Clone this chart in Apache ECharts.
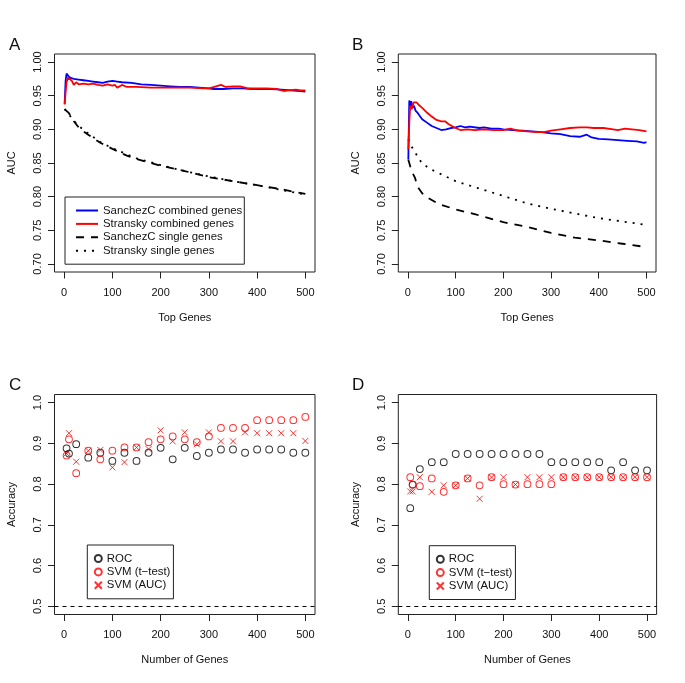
<!DOCTYPE html>
<html>
<head>
<meta charset="utf-8">
<script src="https://cdn.jsdelivr.net/npm/echarts@6/dist/echarts.min.js"></script>
<style>
html,body{margin:0;padding:0;background:#fff;}
#chart{width:685px;height:683px;}
</style>
</head>
<body>
<div id="chart"></div>
<script>
// ---------- data ----------
const xTicks = [0, 100, 200, 300, 400, 500];
const yTicksAUC = [0.70, 0.75, 0.80, 0.85, 0.90, 0.95, 1.00];
const yTicksAcc = [0.5, 0.6, 0.7, 0.8, 0.9, 1.0];

// Panel A  [top genes, AUC]
const aSanchezCombined = [[1,0.938],[3,0.972],[5,0.983],[7,0.981],[10,0.978],[15,0.976],[20,0.975],[30,0.974],[40,0.973],[50,0.972],[60,0.971],[70,0.970],[80,0.969],[90,0.971],[100,0.972],[110,0.971],[120,0.970],[140,0.969],[160,0.967],[180,0.966],[200,0.965],[220,0.964],[240,0.963],[260,0.963],[280,0.962],[300,0.961],[310,0.960],[330,0.960],[350,0.961],[370,0.961],[390,0.960],[410,0.960],[430,0.960],[450,0.959],[470,0.958],[490,0.957],[500,0.956]];
const aStranskyCombined = [[1,0.937],[3,0.955],[5,0.970],[8,0.977],[12,0.976],[16,0.972],[20,0.966],[25,0.970],[30,0.967],[40,0.968],[50,0.967],[60,0.968],[70,0.966],[80,0.965],[90,0.967],[100,0.965],[105,0.966],[110,0.962],[120,0.966],[130,0.963],[150,0.963],[180,0.962],[200,0.962],[230,0.962],[260,0.962],[290,0.961],[300,0.961],[315,0.964],[325,0.966],[335,0.963],[350,0.964],[365,0.964],[380,0.961],[400,0.961],[420,0.961],[440,0.960],[455,0.957],[465,0.958],[480,0.959],[490,0.958],[500,0.958]];
const aSanchezSingle = [[1,0.930],[5,0.928],[10,0.924],[20,0.912],[30,0.903],[40,0.897],[50,0.892],[75,0.880],[100,0.871],[130,0.861],[150,0.856],[200,0.846],[250,0.838],[300,0.829],[350,0.823],[400,0.817],[450,0.811],[500,0.804]];
const aStranskySingle = [[1,0.930],[10,0.922],[20,0.913],[30,0.905],[50,0.894],[75,0.881],[100,0.872],[150,0.857],[200,0.847],[250,0.838],[300,0.830],[350,0.823],[400,0.817],[450,0.810],[500,0.803]];

// Panel B
const bSanchezCombined = [[1,0.855],[2,0.900],[3,0.943],[5,0.930],[7,0.942],[10,0.932],[13,0.935],[16,0.928],[20,0.925],[25,0.920],[30,0.915],[40,0.910],[50,0.905],[60,0.902],[70,0.899],[80,0.900],[90,0.902],[100,0.903],[110,0.905],[120,0.903],[130,0.904],[150,0.902],[160,0.903],[175,0.901],[190,0.901],[200,0.900],[220,0.899],[240,0.898],[260,0.897],[280,0.896],[300,0.894],[320,0.893],[340,0.890],[360,0.889],[375,0.892],[385,0.888],[400,0.886],[420,0.885],[440,0.884],[460,0.883],[480,0.882],[495,0.880],[500,0.881]];
const bStranskyCombined = [[1,0.870],[3,0.910],[5,0.935],[8,0.930],[12,0.940],[18,0.940],[22,0.937],[30,0.932],[40,0.925],[50,0.919],[60,0.914],[70,0.912],[78,0.912],[85,0.908],[95,0.904],[100,0.902],[110,0.899],[125,0.900],[140,0.899],[160,0.900],[180,0.899],[200,0.899],[215,0.901],[230,0.898],[250,0.897],[270,0.896],[285,0.896],[300,0.898],[320,0.900],[340,0.902],[360,0.903],[375,0.903],[390,0.902],[410,0.902],[430,0.900],[440,0.899],[455,0.901],[470,0.900],[485,0.899],[500,0.897]];
const bSanchezSingle = [[1,0.855],[5,0.845],[10,0.835],[15,0.828],[20,0.815],[30,0.805],[40,0.799],[50,0.795],[65,0.789],[100,0.781],[140,0.774],[200,0.762],[250,0.755],[300,0.746],[350,0.739],[400,0.735],[450,0.730],[500,0.725]];
const bStranskySingle = [[1,0.885],[5,0.878],[10,0.872],[20,0.860],[30,0.849],[50,0.840],[65,0.835],[100,0.823],[150,0.812],[200,0.801],[250,0.790],[300,0.782],[350,0.775],[400,0.768],[450,0.763],[500,0.758]];

// Panels C and D  [number of genes]
const geneCounts = [5,10,25,50,75,100,125,150,175,200,225,250,275,300,325,350,375,400,425,450,475,500];
const cROC     = [0.888,0.875,0.898,0.865,0.877,0.857,0.877,0.857,0.877,0.889,0.861,0.889,0.869,0.877,0.885,0.885,0.877,0.885,0.885,0.885,0.877,0.877];
const cSVMt    = [0.870,0.910,0.827,0.882,0.861,0.882,0.890,0.890,0.903,0.910,0.917,0.910,0.903,0.917,0.938,0.938,0.938,0.957,0.957,0.957,0.957,0.965];
const cSVMauc  = [0.875,0.925,0.855,0.882,0.884,0.841,0.854,0.890,0.886,0.932,0.905,0.927,0.898,0.927,0.905,0.905,0.927,0.925,0.925,0.925,0.925,0.906];
const dROC     = [0.741,0.799,0.837,0.854,0.854,0.874,0.874,0.874,0.874,0.874,0.874,0.874,0.874,0.854,0.854,0.854,0.854,0.854,0.834,0.854,0.834,0.834];
const dSVMt    = [0.817,0.799,0.795,0.814,0.781,0.797,0.814,0.797,0.817,0.800,0.799,0.800,0.800,0.800,0.817,0.817,0.817,0.817,0.817,0.817,0.817,0.817];
const dSVMauc  = [0.782,0.782,0.817,0.781,0.797,0.797,0.814,0.764,0.817,0.817,0.799,0.817,0.817,0.817,0.817,0.817,0.817,0.817,0.817,0.817,0.817,0.817];
const chanceLevel = [0.5];

const panelLetters = ['A', 'B', 'C', 'D'];
const legendAB = ['SanchezC combined genes', 'Stransky combined genes', 'SanchezC single genes', 'Stransky single genes'];
const legendCD = ['ROC', 'SVM (t\u2212test)', 'SVM (AUC)'];

// ---------- layout / style ----------
const FONT = 'Liberation Sans, Arial, Helvetica, sans-serif';
const INK = '#111';
const BOX = '#222';
const BLUE = '#0000ff', RED = '#ff0000';
const XPATH = 'path://M0,0L10,10M0,10L10,0';

const grids = [
  {left: 54.5, top: 54, width: 260.5, height: 218},
  {left: 398.3, top: 54, width: 257.7, height: 218},
  {left: 54.5, top: 394.5, width: 260.5, height: 220},
  {left: 398.3, top: 394.5, width: 258.3, height: 220}
];
const yRanges = [[0.688, 1.012], [0.688, 1.012], [0.48, 1.02], [0.48, 1.02]];
const xNames = ['Top Genes', 'Top Genes', 'Number of Genes', 'Number of Genes'];
const yNames = ['AUC', 'AUC', 'Accuracy', 'Accuracy'];

const option = {
  backgroundColor: '#fff',
  animation: false,
  textStyle: {fontFamily: FONT},
  title: panelLetters.map((t, i) => ({
    text: t, padding: 0,
    left: i % 2 === 0 ? 9 : 352,
    top: i < 2 ? 37 : 377,
    textStyle: {fontSize: 17, fontWeight: 'normal', color: INK, fontFamily: FONT}
  })),
  grid: grids.map(g => Object.assign({show: true, borderColor: BOX, borderWidth: 1, backgroundColor: 'transparent'}, g)),
  xAxis: grids.map((g, i) => ({
    gridIndex: i, type: 'value', min: -20, max: 520,
    name: xNames[i], nameLocation: 'middle', nameGap: 40,
    nameTextStyle: {fontSize: 11, color: INK, fontFamily: FONT},
    axisLine: {show: false, onZero: false},
    splitLine: {show: false},
    axisTick: {show: true, customValues: xTicks, length: 6.5, lineStyle: {color: BOX, width: 1}},
    axisLabel: {customValues: xTicks, margin: 15, fontSize: 11, color: INK, fontFamily: FONT}
  })),
  yAxis: grids.map((g, i) => ({
    gridIndex: i, type: 'value', min: yRanges[i][0], max: yRanges[i][1],
    name: yNames[i], nameLocation: 'middle', nameGap: 37,
    nameTextStyle: {fontSize: 11, color: INK, fontFamily: FONT},
    axisLine: {show: false, onZero: false},
    splitLine: {show: false},
    axisTick: {show: true, customValues: i < 2 ? yTicksAUC : yTicksAcc, length: 6.5, lineStyle: {color: BOX, width: 1}},
    axisLabel: {
      customValues: i < 2 ? yTicksAUC : yTicksAcc, rotate: 90, margin: 11,
      fontSize: 11, color: INK, fontFamily: FONT,
      formatter: v => (i < 2 ? Number(v).toFixed(2) : Number(v).toFixed(1))
    }
  })),
  legend: [
    {
      data: legendAB, orient: 'vertical', left: 65, top: 197,
      borderColor: BOX, borderWidth: 1, padding: [7, 2, 7, 10],
      itemWidth: 22, itemHeight: 13, itemGap: 0.4, itemTextGap: 10,
      itemStyle: {opacity: 0},
      selectedMode: false,
      textStyle: {fontSize: 11.4, color: INK, lineHeight: 13, fontFamily: FONT}
    },
    {
      data: legendCD, orient: 'vertical', left: 87.3, top: 545,
      borderColor: BOX, borderWidth: 1, padding: [7, 3, 7, 6.5],
      itemWidth: 7, itemHeight: 7, itemGap: 0.4, itemTextGap: 6.5,
      selectedMode: false,
      textStyle: {fontSize: 11.4, color: INK, lineHeight: 13, fontFamily: FONT}
    },
    {
      data: legendCD, orient: 'vertical', left: 429.3, top: 545.7,
      borderColor: BOX, borderWidth: 1, padding: [7, 3, 7, 6.5],
      itemWidth: 7, itemHeight: 7, itemGap: 0.4, itemTextGap: 7.4,
      selectedMode: false,
      textStyle: {fontSize: 11.4, color: INK, lineHeight: 13, fontFamily: FONT}
    }
  ],
  series: []
};

function lineSeries(name, idx, data, color, type) {
  return {
    name, type: 'line', xAxisIndex: idx, yAxisIndex: idx, data,
    showSymbol: false, symbol: 'none', clip: false, silent: true,
    lineStyle: {color, width: 1.8, type: type, cap: 'butt'},
    itemStyle: {color}
  };
}
function zip(ys) { return geneCounts.map((x, k) => [x, ys[k]]); }
function circleSeries(name, idx, ys, color) {
  return {
    name, type: 'scatter', xAxisIndex: idx, yAxisIndex: idx, data: zip(ys),
    symbol: 'circle', symbolSize: 6.8, silent: true, clip: false,
    itemStyle: {color: 'transparent', borderColor: color, borderWidth: 1}
  };
}
function crossSeries(name, idx, ys, color) {
  return {
    name, type: 'scatter', xAxisIndex: idx, yAxisIndex: idx, data: zip(ys),
    symbol: XPATH, symbolSize: 6, silent: true, clip: false,
    itemStyle: {color: 'transparent', borderColor: color, borderWidth: 1}
  };
}
function chanceLine() {
  return {
    silent: true, symbol: 'none', label: {show: false},
    lineStyle: {type: [4, 4], color: '#000', width: 1},
    data: chanceLevel.map(v => ({yAxis: v}))
  };
}

[[aSanchezCombined, aStranskyCombined, aSanchezSingle, aStranskySingle],
 [bSanchezCombined, bStranskyCombined, bSanchezSingle, bStranskySingle]].forEach((set, i) => {
  option.series.push(lineSeries(legendAB[2], i, set[2], '#000', [8, 7]));
  option.series.push(lineSeries(legendAB[3], i, set[3], '#000', [2, 6]));
  option.series.push(lineSeries(legendAB[0], i, set[0], BLUE, 'solid'));
  option.series.push(lineSeries(legendAB[1], i, set[1], RED, 'solid'));
});

[[cROC, cSVMt, cSVMauc], [dROC, dSVMt, dSVMauc]].forEach((set, j) => {
  const idx = j + 2;
  const roc = circleSeries(legendCD[0], idx, set[0], '#000');
  roc.markLine = chanceLine();
  option.series.push(roc);
  option.series.push(circleSeries(legendCD[1], idx, set[1], RED));
  option.series.push(crossSeries(legendCD[2], idx, set[2], RED));
});

const chart = echarts.init(document.getElementById('chart'), null, {renderer: 'canvas'});
chart.setOption(option);
</script>
</body>
</html>
